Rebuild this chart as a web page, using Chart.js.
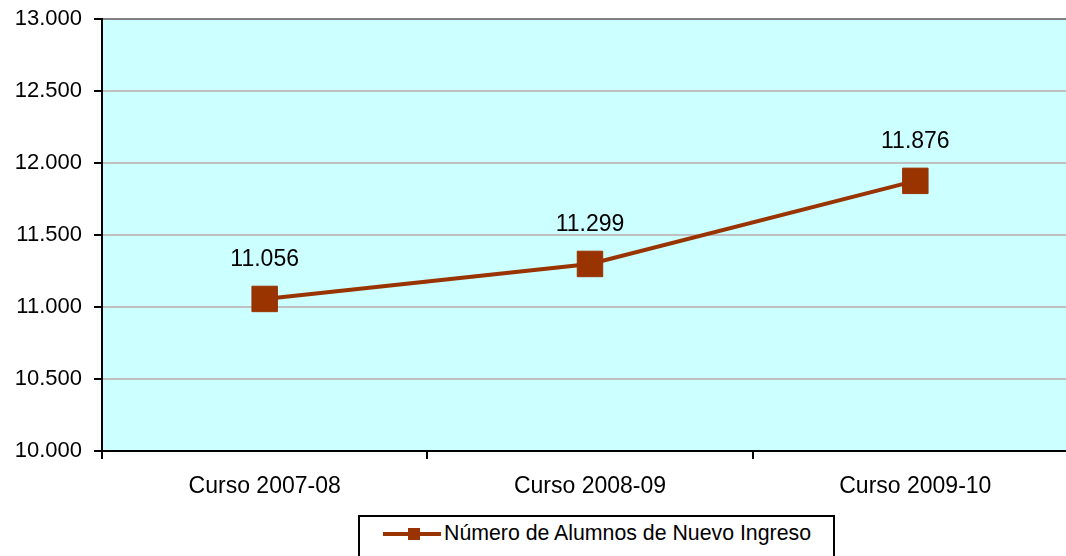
<!DOCTYPE html>
<html>
<head>
<meta charset="utf-8">
<script src="https://cdn.jsdelivr.net/npm/chart.js@4"></script>
<style>
    body { margin: 0; background: #fff; overflow: hidden; }
    #wrap { position: relative; width: 1066px; height: 556px; overflow: hidden; }
    #legend {
        position: absolute; left: 358px; top: 515px; width: 473px; height: 60px;
        border: 2px solid #000; background: #fff;
        font-family: "Liberation Sans", Arial, sans-serif; font-size: 21.3px; color: #000;
    }
    #legend .line { position: absolute; left: 23px; top: 15px; width: 58px; height: 4px; }
    #legend .box { position: absolute; left: 48px; top: 11px; width: 12px; height: 12px; }
    #legend .txt { position: absolute; left: 84px; top: 4px; white-space: nowrap; }
</style>
</head>
<body>
<div id="wrap">
    <canvas id="myLineChart" width="1097" height="556"></canvas>
    <div id="legend"></div>
</div>
<script>
var categories = ['Curso 2007-08', 'Curso 2008-09', 'Curso 2009-10'];
var alumnos = [11056, 11299, 11876];
var yMin = 10000, yMax = 13000, yStep = 500;
var seriesName = 'Número de Alumnos de Nuevo Ingreso';

var fontFam = '"Liberation Sans", Arial, sans-serif';

// miles con punto: 11056 -> 11.056
function fmt(v) {
    return String(Math.round(v)).replace(/\B(?=(\d{3})+(?!\d))/g, '.');
}

// fondo celeste del area de trazado
var bgPlugin = {
    id: 'bg',
    beforeDraw: function (chart) {
        var a = chart.chartArea, c = chart.ctx;
        c.save();
        c.fillStyle = '#CCFFFF';
        c.fillRect(a.left, a.top, a.right - a.left, a.bottom - a.top);
        c.restore();
    }
};

// etiquetas de valor encima de cada punto
var labelPlugin = {
    id: 'valueLabels',
    afterDatasetsDraw: function (chart) {
        var c = chart.ctx;
        var meta = chart.getDatasetMeta(0);
        c.save();
        c.font = '23px ' + fontFam;
        c.fillStyle = '#000';
        c.textAlign = 'center';
        c.textBaseline = 'alphabetic';
        meta.data.forEach(function (pt, i) {
            c.fillText(fmt(chart.data.datasets[0].data[i]), pt.x, pt.y - 33);
        });
        c.restore();
    }
};

var ctx = document.getElementById('myLineChart').getContext('2d');
var myChart = new Chart(ctx, {
    type: 'line',
    data: {
        labels: categories,
        datasets: [{
            label: seriesName,
            data: alumnos,
            borderColor: '#993300',
            backgroundColor: '#993300',
            borderWidth: 4,
            pointStyle: 'rect',
            pointRadius: 18,
            pointHoverRadius: 18,
            pointBackgroundColor: '#993300',
            pointBorderColor: '#993300',
            pointBorderWidth: 1,
            tension: 0,
            fill: false
        }]
    },
    options: {
        responsive: false,
        animation: false,
        devicePixelRatio: 1,
        layout: { padding: { top: 19, left: 0, right: 13, bottom: 0 } },
        plugins: {
            legend: { display: false },
            tooltip: { enabled: false }
        },
        scales: {
            x: {
                offset: true,
                grid: {
                    offset: true,
                    drawOnChartArea: false,
                    tickLength: 8,
                    tickColor: '#000',
                    lineWidth: 2
                },
                border: { display: true, color: '#000', width: 2 },
                ticks: { color: '#000', padding: 14, font: { family: fontFam, size: 23 } },
                afterFit: function (s) {
                    s.height = 105;
                    s.paddingLeft = 0;
                    s.paddingRight = 0;
                }
            },
            y: {
                min: yMin,
                max: yMax,
                grid: {
                    color: function (c) {
                        if (c.tick.value === yMax) return '#808080';
                        if (c.tick.value === yMin) return 'rgba(0,0,0,0)';
                        return '#c0c0c0';
                    },
                    tickColor: '#000',
                    tickLength: 8,
                    lineWidth: 2
                },
                border: { display: true, color: '#000', width: 2 },
                ticks: {
                    stepSize: yStep,
                    color: '#000',
                    padding: 12,
                    font: { family: fontFam, size: 22 },
                    callback: function (v) { return fmt(v); }
                },
                afterFit: function (s) {
                    s.width = 102;
                    s.paddingTop = 0;
                    s.paddingBottom = 0;
                }
            }
        }
    },
    plugins: [bgPlugin, labelPlugin]
});

// leyenda con recuadro, como en el original
var ds = myChart.data.datasets[0];
document.getElementById('legend').innerHTML =
    '<div class="line" style="background:' + ds.borderColor + '"></div>' +
    '<div class="box" style="background:' + ds.pointBackgroundColor + '"></div>' +
    '<div class="txt">' + ds.label + '</div>';
</script>
</body>
</html>
